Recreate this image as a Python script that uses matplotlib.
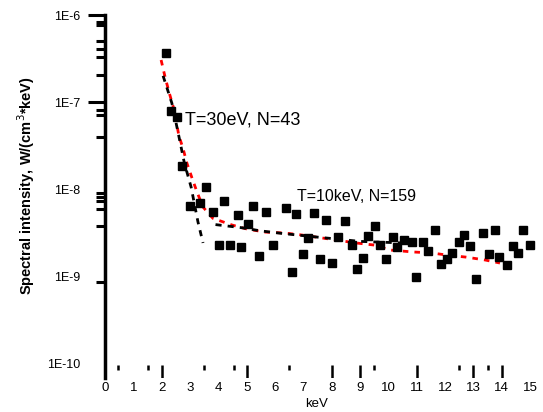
import numpy as np
import matplotlib
matplotlib.use('Agg')
import matplotlib.pyplot as plt
from matplotlib.ticker import FixedLocator, NullFormatter

plt.rcParams['font.family'] = ['Liberation Sans', 'DejaVu Sans']

# measured spectrum points (keV, W/(cm^3*keV))
energy = [2.15, 2.33, 2.54, 2.72, 3.57, 3.00, 3.35, 4.20, 3.81, 5.22,
          4.69, 5.68, 6.39, 6.74, 5.05, 4.02, 4.41, 4.80, 5.93, 5.44,
          6.60, 7.38, 7.80, 8.47, 9.53, 7.17, 8.22, 9.28, 8.72, 9.71,
          10.17, 10.31, 10.55, 10.84, 11.22, 11.65, 11.40, 6.99, 7.59, 8.01,
          9.11, 9.92, 8.90, 10.98, 12.67, 12.50, 12.88, 13.34, 13.77, 14.75,
          12.25, 12.07, 11.86, 13.55, 13.91, 14.19, 14.40, 14.58, 15.00, 13.10]
intensity = [3.66e-7, 7.9e-8, 6.7e-8, 1.84e-8, 1.05e-8, 6.4e-9, 6.9e-9, 7.3e-9, 5.4e-9, 6.4e-9,
             5.0e-9, 5.4e-9, 6.0e-9, 5.2e-9, 3.96e-9, 2.27e-9, 2.27e-9, 2.15e-9, 2.27e-9, 1.70e-9,
             1.11e-9, 5.3e-9, 4.4e-9, 4.3e-9, 3.76e-9, 2.73e-9, 2.81e-9, 2.88e-9, 2.27e-9, 2.27e-9,
             2.81e-9, 2.15e-9, 2.59e-9, 2.46e-9, 2.46e-9, 3.38e-9, 1.94e-9, 1.79e-9, 1.57e-9, 1.41e-9,
             1.61e-9, 1.57e-9, 1.20e-9, 9.7e-10, 2.96e-9, 2.46e-9, 2.21e-9, 3.12e-9, 3.38e-9, 3.38e-9,
             1.84e-9, 1.57e-9, 1.37e-9, 1.79e-9, 1.65e-9, 1.34e-9, 2.21e-9, 1.84e-9, 2.27e-9, 9.2e-10]

# cold component fit (T=30eV)
cold_e = [2.05, 2.36, 2.61, 2.80, 3.04, 3.28, 3.46]
cold_i = [2.0e-7, 9.7e-8, 4.0e-8, 2.0e-8, 1.05e-8, 4.2e-9, 2.4e-9]

# hot component fit (T=10keV)
hot_e = [3.9, 4.8, 5.5, 6.2, 7.5, 9.0, 10.5, 11.4]
hot_i = [3.9e-9, 3.6e-9, 3.3e-9, 3.1e-9, 2.8e-9, 2.5e-9, 2.4e-9, 2.4e-9]

# total fit
total_e = [1.98, 2.12, 2.26, 2.44, 2.61, 2.75, 2.89, 3.07, 3.25, 3.46,
           3.81, 4.48, 5.01, 5.65, 6.35, 6.95, 8.90, 9.50, 10.06, 10.87,
           11.54, 12.07, 12.74, 13.41, 13.94]
total_i = [3.04e-7, 1.94e-7, 1.30e-7, 8.1e-8, 4.06e-8, 2.96e-8, 1.99e-8, 1.34e-8, 9.2e-9, 6.2e-9,
           4.6e-9, 3.86e-9, 3.47e-9, 3.2e-9, 3.12e-9, 2.96e-9, 2.39e-9, 2.27e-9, 1.99e-9, 1.89e-9,
           1.84e-9, 1.74e-9, 1.65e-9, 1.53e-9, 1.41e-9]

x_labels = [str(i) for i in range(16)]
y_major = [1e-6, 1e-7, 1e-8, 1e-9, 1e-10]
y_labels = ['1E-6', '1E-7', '1E-8', '1E-9', '1E-10']
y_minor = [8.38e-7, 7.67e-7, 5.02e-7, 4.12e-7, 3.29e-7, 2.04e-7, 8.09e-8, 7.10e-8, 3.96e-8,
           9.06e-9, 8.15e-9, 7.33e-9, 5.89e-9, 3.76e-9, 8.59e-10]

# stray marks along the energy axis
long_marks = [2, 5, 8, 9, 11, 13, 14]
short_marks = [0.45, 1.5, 3.5, 4.55, 6.5, 9.5, 12.5, 13.5]

fig = plt.figure(figsize=(5.43, 4.12), dpi=100)
ax = fig.add_axes([105 / 543, 34 / 412, 425 / 543, 363 / 412])

ax.plot(total_e, total_i, color='red', lw=2, dashes=(2, 2.2), zorder=2)
ax.plot(cold_e, cold_i, color='black', lw=2, dashes=(2.2, 2.2), zorder=3)
ax.plot(hot_e, hot_i, color='black', lw=2, dashes=(2.2, 2.2), zorder=3)
ax.plot(energy, intensity, 's', color='black', ms=5.5, zorder=4, clip_on=False)

ax.set_yscale('log')
ax.set_xlim(0, 15)
ax.set_ylim(6.73e-11, 1e-6)

ax.set_xticks(range(16))
ax.set_xticklabels(x_labels, fontsize=9.5)
ax.tick_params(axis='x', length=0, pad=3)

ax.yaxis.set_major_locator(FixedLocator(y_major))
ax.set_yticklabels(y_labels, fontsize=9)
ax.yaxis.set_minor_locator(FixedLocator(y_minor))
ax.yaxis.set_minor_formatter(NullFormatter())
ax.tick_params(axis='y', which='major', length=12, width=2.2, pad=6)
ax.tick_params(axis='y', which='minor', length=6.5, width=2.2)
for t in ax.yaxis.get_major_ticks()[2:]:
    t.tick1line.set_visible(False)

for s in ['top', 'right', 'bottom']:
    ax.spines[s].set_visible(False)
ax.spines['left'].set_linewidth(2.5)

xt = ax.get_xaxis_transform()
ax.vlines(long_marks, 0, 0.036, color='black', lw=1.8, transform=xt)
ax.vlines(short_marks, 0.022, 0.036, color='black', lw=1.8, transform=xt)

ax.text(2.82, 6.2e-8, 'T=30eV, N=43', fontsize=13, va='center', ha='left')
ax.text(6.78, 8.3e-9, 'T=10keV, N=159', fontsize=11.5, va='center', ha='left')

fig.text(317 / 543, 1 - 404 / 412, 'keV', fontsize=9.5, ha='center', va='center')
fig.text(26 / 543, 1 - 186 / 412, 'Spectral intensity, W/(cm$^3$*keV)', fontsize=10.5,
         fontweight='bold', rotation=90, ha='center', va='center')

fig.savefig('out.png', dpi=100)
